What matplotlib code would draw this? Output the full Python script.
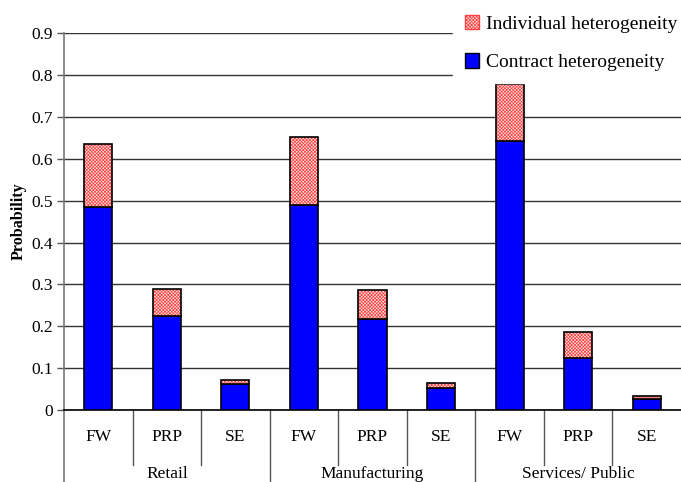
import matplotlib
matplotlib.use("Agg")
import matplotlib.pyplot as plt
from matplotlib.patches import Patch
import matplotlib.transforms as mtransforms

plt.rcParams['font.family'] = ['Liberation Serif', 'DejaVu Serif']
plt.rcParams['hatch.linewidth'] = 0.5

groups = ["Retail", "Manufacturing", "Services/ Public"]
schemes = ["FW", "PRP", "SE"]
contract = [0.485, 0.225, 0.062, 0.490, 0.218, 0.053, 0.642, 0.125, 0.026]
total = [0.636, 0.290, 0.072, 0.651, 0.286, 0.065, 0.779, 0.187, 0.034]
individual = [t - c for t, c in zip(total, contract)]

fig = plt.figure(figsize=(6.81, 4.82), dpi=100)
ax = fig.add_axes([0.094, 0.149, 0.906, 0.7825])

x = list(range(len(contract)))
w = 0.41
red_hatch = '#ff4040'
ax.bar(x, contract, width=w, color='#0000ff', edgecolor='black', linewidth=1.2, zorder=3)
ax.bar(x, individual, width=w, bottom=contract, color='#ffe0e0', edgecolor=red_hatch,
       hatch='xxxxxxxxxx', linewidth=0, zorder=3)
ax.bar(x, individual, width=w, bottom=contract, fill=False, edgecolor='black',
       linewidth=1.2, zorder=4)

ax.set_xlim(-0.5, 8.5)
ax.set_ylim(0, 0.9)
ax.set_yticks([i / 10 for i in range(10)])
ax.set_yticklabels(['0'] + ['%.1f' % (i / 10) for i in range(1, 10)], fontsize=12.5)
ax.yaxis.grid(True, color='#333333', linewidth=1.0, zorder=0)
ax.set_axisbelow(True)
ax.tick_params(axis='y', direction='out', length=5, width=1, color='#555555', pad=3)
ax.set_xticks([])
for s in ['top', 'right']:
    ax.spines[s].set_visible(False)
ax.spines['left'].set_color('#777777')
ax.spines['left'].set_linewidth(1.2)
ax.spines['bottom'].set_color('black')
ax.spines['bottom'].set_linewidth(1.2)
ax.set_ylabel('Probability', fontsize=11.5, fontweight='bold', labelpad=3)

# two-level category axis
trans = mtransforms.blended_transform_factory(ax.transData, ax.transAxes)
for i in range(len(contract)):
    ax.text(i, -0.072, schemes[i % 3], transform=trans, ha='center', va='center', fontsize=12.5)
for i in range(1, len(contract)):
    if i % 3 == 0:
        ax.plot([i - 0.5, i - 0.5], [0, -0.2], transform=trans, color='#555555',
                linewidth=1, clip_on=False)
    else:
        ax.plot([i - 0.5, i - 0.5], [0, -0.145], transform=trans, color='#555555',
                linewidth=1, clip_on=False)
ax.plot([-0.5, -0.5], [0, -0.2], transform=trans, color='#777777', linewidth=1.2, clip_on=False)
for g, name in enumerate(groups):
    ax.text(3 * g + 1, -0.168, name, transform=trans, ha='center', va='center', fontsize=12.5)

handles = [Patch(facecolor='#ffe0e0', edgecolor=red_hatch, hatch='xxxxxxxxxx', label='Individual heterogeneity'),
           Patch(facecolor='#0000ff', edgecolor='black', label='Contract heterogeneity')]
leg = fig.legend(handles=handles, loc='upper right', bbox_to_anchor=(1.012, 0.993),
                 fontsize=14, frameon=True, fancybox=False, handlelength=0.75,
                 handleheight=0.75, handletextpad=0.35, labelspacing=1.05,
                 borderpad=0.6, borderaxespad=0.0)
leg.get_frame().set_edgecolor('white')
leg.get_frame().set_facecolor('white')
leg.get_frame().set_alpha(1)
for p in leg.get_patches():
    p.set_edgecolor('black')
leg.get_patches()[0].set_edgecolor(red_hatch)

fig.savefig('out.png', dpi=100)
